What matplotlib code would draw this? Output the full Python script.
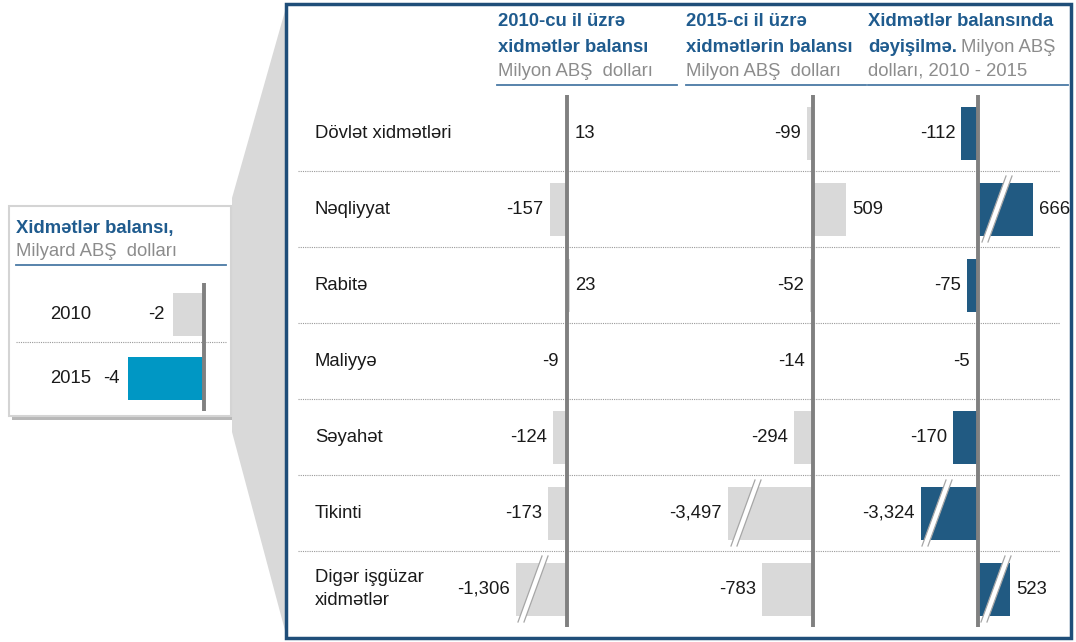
import matplotlib.pyplot as plt
from matplotlib.patches import Polygon, Rectangle

plt.rcParams['font.family'] = ['Liberation Sans', 'DejaVu Sans']

# data (million USD)
categories = ['Dövlət xidmətləri', 'Nəqliyyat', 'Rabitə', 'Maliyyə',
              'Səyahət', 'Tikinti', 'Digər işgüzar\nxidmətlər']
bal_2010 = [13, -157, 23, -9, -124, -173, -1306]
bal_2015 = [-99, 509, -52, -14, -294, -3497, -783]
change = [-112, 666, -75, -5, -170, -3324, 523]

# summary box (billion USD)
years = ['2010', '2015']
totals = [sum(bal_2010) / 1000, sum(bal_2015) / 1000]
total_labels = ['-2', '-4']

# colours
BLUE_T = '#1f5b8e'
GREY_T = '#8c8c8c'
LIGHT = '#d9d9d9'
DARK = '#215a82'
CYAN = '#0097c4'
ZERO = '#808080'
FS = 13.3

W, H = 1076, 642
fig = plt.figure(figsize=(W / 100, H / 100), dpi=100)

bg = fig.add_axes([0, 0, 1, 1])
bg.set_xlim(0, W)
bg.set_ylim(H, 0)
bg.axis('off')

# zoom wedge, summary box and main panel
bg.add_patch(Polygon([(232, 198), (287, 4), (287, 638), (232, 432)], color=LIGHT, lw=0))
bg.add_patch(Rectangle((12, 210), 220, 210, color='#b8b8b8', lw=0))
bg.add_patch(Rectangle((9, 206), 222, 210, facecolor='white', edgecolor='#d4d4d4', lw=1.5))
bg.add_patch(Rectangle((286, 4), 785, 634, facecolor='white', edgecolor='#1f4e79', lw=2.5))

# summary box text
bg.text(16, 229, 'Xidmətlər balansı,', color=BLUE_T, fontsize=FS, fontweight='bold', va='center')
bg.text(16, 252, 'Milyard ABŞ  dolları', color=GREY_T, fontsize=FS, va='center')
bg.plot([16, 226], [265, 265], color='#4a7aa5', lw=1.3)
bg.plot([16, 226], [342, 342], color='#9a9a9a', lw=0.8, ls=(0, (1, 1)))

# column headers
hdr_x = [498, 686, 868]
bg.text(hdr_x[0], 22, '2010-cu il üzrə', color=BLUE_T, fontsize=FS, fontweight='bold', va='center')
bg.text(hdr_x[0], 47, 'xidmətlər balansı', color=BLUE_T, fontsize=FS, fontweight='bold', va='center')
bg.text(hdr_x[0], 71, 'Milyon ABŞ  dolları', color=GREY_T, fontsize=FS, va='center')
bg.text(hdr_x[1], 22, '2015-ci il üzrə', color=BLUE_T, fontsize=FS, fontweight='bold', va='center')
bg.text(hdr_x[1], 47, 'xidmətlərin balansı', color=BLUE_T, fontsize=FS, fontweight='bold', va='center')
bg.text(hdr_x[1], 71, 'Milyon ABŞ  dolları', color=GREY_T, fontsize=FS, va='center')
bg.text(hdr_x[2], 22, 'Xidmətlər balansında', color=BLUE_T, fontsize=FS, fontweight='bold', va='center')
t = bg.text(hdr_x[2], 47, 'dəyişilmə.', color=BLUE_T, fontsize=FS, fontweight='bold', va='center')
fig.canvas.draw()
bb = t.get_window_extent().transformed(bg.transData.inverted())
bg.text(max(bb.x0, bb.x1) + 4, 47, 'Milyon ABŞ', color=GREY_T, fontsize=FS, va='center')
bg.text(hdr_x[2], 71, 'dolları, 2010 - 2015', color=GREY_T, fontsize=FS, va='center')
for x0, x1 in [(497, 677), (686, 866), (868, 1068)]:
    bg.plot([x0, x1], [85, 85], color='#4a7aa5', lw=1.3)

# rows
row_top, row_h = 95, 76
for i, cat in enumerate(categories):
    bg.text(315, row_top + (i + 0.5) * row_h, cat, fontsize=FS, color='#1a1a1a',
            va='center', linespacing=1.4)
for i in range(1, len(categories)):
    y = row_top + i * row_h
    bg.plot([298, 1060], [y, y], color='#9a9a9a', lw=0.8, ls=(0, (1, 1)))


def column(left, right, zero, scale, top, rows, rh):
    ax = fig.add_axes([left / W, 1 - (top + rows * rh) / H, (right - left) / W, rows * rh / H])
    ax.set_xlim(-(zero - left) / scale, (right - zero) / scale)
    ax.set_ylim(rows - 0.5, -0.5)
    ax.axis('off')
    ax.patch.set_alpha(0)
    return ax


def draw_break(ax, row, center_px, scale, rh):
    half = 33 / rh
    dx, gap = 12, 6
    c = center_px
    xs_l = [(c - dx - gap / 2) / scale, (c + dx - gap / 2) / scale]
    xs_r = [(c - dx + gap / 2) / scale, (c + dx + gap / 2) / scale]
    ys = [row + half, row - half]
    ax.add_patch(Polygon([(xs_l[0], ys[0]), (xs_l[1], ys[1]), (xs_r[1], ys[1]), (xs_r[0], ys[0])],
                         facecolor='white', lw=0, zorder=3))
    ax.plot(xs_l, ys, color='#a6a6a6', lw=0.9, zorder=4)
    ax.plot(xs_r, ys, color='#a6a6a6', lw=0.9, zorder=4)


def draw_column(ax, values, scale, colour, breaks, rh, gap_px=6):
    for i, v in enumerate(values):
        if i in breaks:
            shown_px, brk_px = breaks[i]
            length = (shown_px if v > 0 else -shown_px) / scale
        else:
            length = v
        ax.barh(i, length, height=53 / rh, color=colour, lw=0, zorder=2)
        if i in breaks:
            draw_break(ax, i, brk_px, scale, rh)
        px = abs(length) * scale
        off = gap_px + max(0, 2 - px)
        off = off if v > 0 else -off
        ax.annotate(f'{v:,}', (length, i), xytext=(off * 0.72, 0),
                    textcoords='offset points', ha='left' if v > 0 else 'right',
                    va='center', fontsize=FS, color='#1a1a1a', zorder=5)
    ax.axvline(0, color=ZERO, lw=2.8, zorder=6)


# broken bars: row -> (shown length px, break centre px from zero)
cols = [
    (bal_2010, 498, 678, 567, 0.11, LIGHT, {6: (51, -34)}),
    (bal_2015, 686, 866, 813, 0.065, LIGHT, {5: (85, -67)}),
    (change, 868, 1068, 978, 0.148, DARK, {1: (55, 19), 5: (57, -41), 6: (32, 18)}),
]
for vals, l, r, z, s, col, brk in cols:
    ax = column(l, r, z, s, row_top, len(categories), row_h)
    draw_column(ax, vals, s, col, brk, row_h)

# summary bars
sax = column(100, 215, 204, 18, 282.5, 2, 64)
sax.barh([0, 1], totals, height=0.67, color=[LIGHT, CYAN], lw=0, zorder=2)
for i, (v, lab) in enumerate(zip(totals, total_labels)):
    sax.annotate(lab, (v, i), xytext=(-8 * 0.72, 0), textcoords='offset points',
                 ha='right', va='center', fontsize=FS, color='#1a1a1a')
sax.axvline(0, color=ZERO, lw=2.8, zorder=6)
for i, yr in enumerate(years):
    bg.text(50, 282.5 + (i + 0.5) * 64, yr, fontsize=FS, color='#1a1a1a', va='center')

fig.savefig('out.png', dpi=100)
